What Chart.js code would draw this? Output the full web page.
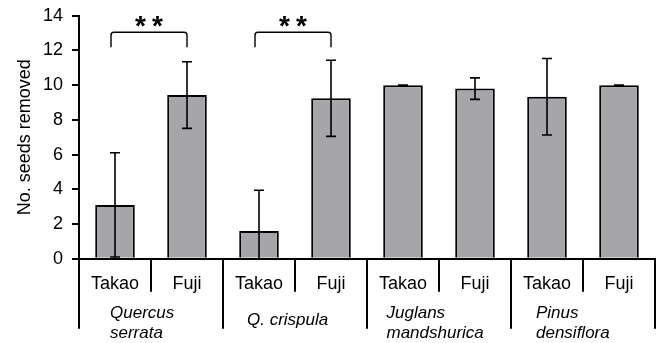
<!DOCTYPE html>
<html>
<head>
<meta charset="utf-8">
<script src="https://cdn.jsdelivr.net/npm/chart.js@4"></script>
<style>
  html, body { margin: 0; padding: 0; background: #fff; }
  #wrap { width: 659px; height: 343px; }
</style>
</head>
<body>
<div id="wrap"><canvas id="c" width="659" height="343"></canvas></div>
<script>
// Seed removal per species and site (mean ± SD)
const species = [['Quercus', 'serrata'], ['Q. crispula'], ['Juglans', 'mandshurica'], ['Pinus', 'densiflora']];
const sites = ['Takao', 'Fuji'];
const seedsRemoved = [3.1, 9.43, 1.6, 9.24, 10.0, 9.8, 9.33, 10.0];
const seedsSD = [3.0, 1.92, 2.34, 2.19, 0, 0.62, 2.2, 0];
const yTicks = [0, 2, 4, 6, 8, 10, 12, 14];
const sigPairs = [[0, 1], [2, 3]];
const sigLabels = ['**', '**'];
const bracketLevel = 13.05;

const barLabels = species.flatMap(() => sites);
const FONT = "'Liberation Sans', Arial, sans-serif";

// Error bars, significance brackets and the two-level category axis
const annotate = {
  id: 'annotate',
  afterDatasetsDraw(chart) {
    const ctx = chart.ctx;
    const xs = chart.scales.x, ys = chart.scales.y;
    const area = chart.chartArea;
    const bars = chart.getDatasetMeta(0).data;
    ctx.save();
    ctx.strokeStyle = '#000';
    ctx.fillStyle = '#000';

    // error bars
    ctx.lineWidth = 1.6;
    seedsRemoved.forEach((m, i) => {
      const x = bars[i].x;
      const sd = seedsSD[i];
      const top = ys.getPixelForValue(m + sd);
      const lowVal = m - sd;
      const bot = Math.min(ys.getPixelForValue(Math.max(lowVal, 0)), area.bottom);
      ctx.beginPath();
      ctx.moveTo(x, top); ctx.lineTo(x, bot);
      ctx.moveTo(x - 5, top); ctx.lineTo(x + 5, top);
      if (lowVal >= 0) { ctx.moveTo(x - 5, bot); ctx.lineTo(x + 5, bot); }
      ctx.stroke();
    });

    // significance brackets
    ctx.lineWidth = 1.4;
    sigPairs.forEach(([a, b], k) => {
      const x1 = bars[a].x - 4, x2 = bars[b].x;
      const yT = ys.getPixelForValue(bracketLevel);
      const yB = yT + 15, r = 3;
      ctx.beginPath();
      ctx.moveTo(x1, yB);
      ctx.lineTo(x1, yT + r);
      ctx.quadraticCurveTo(x1, yT, x1 + r, yT);
      ctx.lineTo(x2 - r, yT);
      ctx.quadraticCurveTo(x2, yT, x2, yT + r);
      ctx.lineTo(x2, yB);
      ctx.stroke();
      const cx = (x1 + x2) / 2;
      ctx.font = 'bold 28px ' + FONT;
      ctx.textAlign = 'center';
      ctx.textBaseline = 'alphabetic';
      const chars = sigLabels[k].split('');
      chars.forEach((ch, j) => {
        ctx.fillText(ch, cx + (j - (chars.length - 1) / 2) * 17, yT + 3);
      });
    });

    // category axis: site labels, separators, species names
    const half = (xs.getPixelForValue(1) - xs.getPixelForValue(0)) / 2;
    const base = area.bottom;
    ctx.lineWidth = 2;
    ctx.beginPath();
    species.forEach((sp, g) => {
      const left = xs.getPixelForValue(g * 2) - half;
      const mid = xs.getPixelForValue(g * 2) + half;
      ctx.moveTo(left, base); ctx.lineTo(left, base + 70);
      ctx.moveTo(mid, base); ctx.lineTo(mid, base + 33);
    });
    const last = xs.getPixelForValue(barLabels.length - 1) + half;
    ctx.moveTo(last, base); ctx.lineTo(last, base + 70);
    ctx.stroke();

    ctx.font = '18px ' + FONT;
    ctx.textAlign = 'center';
    ctx.textBaseline = 'alphabetic';
    barLabels.forEach((s, i) => ctx.fillText(s, xs.getPixelForValue(i), base + 30));

    const nameInset = [31, 24, 19.5, 25];
    ctx.font = 'italic 17px ' + FONT;
    ctx.textAlign = 'left';
    species.forEach((lines, g) => {
      const left = xs.getPixelForValue(g * 2) - half + nameInset[g];
      if (lines.length === 1) {
        ctx.fillText(lines[0], left, base + 66);
      } else {
        lines.forEach((t, j) => ctx.fillText(t, left, base + 59.5 + j * 19.5));
      }
    });
    ctx.restore();
  }
};

new Chart(document.getElementById('c'), {
  type: 'bar',
  data: {
    labels: barLabels,
    datasets: [{
      data: seedsRemoved,
      backgroundColor: '#a6a6aa',
      borderColor: '#000',
      borderWidth: 2,
      barPercentage: 0.55,
      categoryPercentage: 1
    }]
  },
  options: {
    responsive: false,
    animation: false,
    devicePixelRatio: 1,
    layout: { padding: { top: 15.7, right: 4, left: 0, bottom: 0 } },
    plugins: { legend: { display: false }, tooltip: { enabled: false } },
    scales: {
      x: {
        type: 'category',
        grid: { display: false },
        ticks: { display: false },
        border: { color: '#000', width: 2 },
        afterFit(s) { s.height = 84.3; }
      },
      y: {
        min: 0,
        max: 14,
        afterBuildTicks(s) { s.ticks = yTicks.map(v => ({ value: v })); },
        ticks: { color: '#000', padding: 9, font: { family: FONT, size: 18 } },
        grid: { drawOnChartArea: false, tickLength: 7, color: '#000', lineWidth: 2 },
        border: { color: '#000', width: 2 },
        title: {
          display: true,
          text: 'No. seeds removed',
          color: '#000',
          font: { family: FONT, size: 18 },
          padding: { top: 14, bottom: 0 }
        },
        afterFit(s) {
          s.width = 79;
          s.paddingTop = 0;
          s.paddingBottom = 0;
        }
      }
    }
  },
  plugins: [annotate]
});
</script>
</body>
</html>
